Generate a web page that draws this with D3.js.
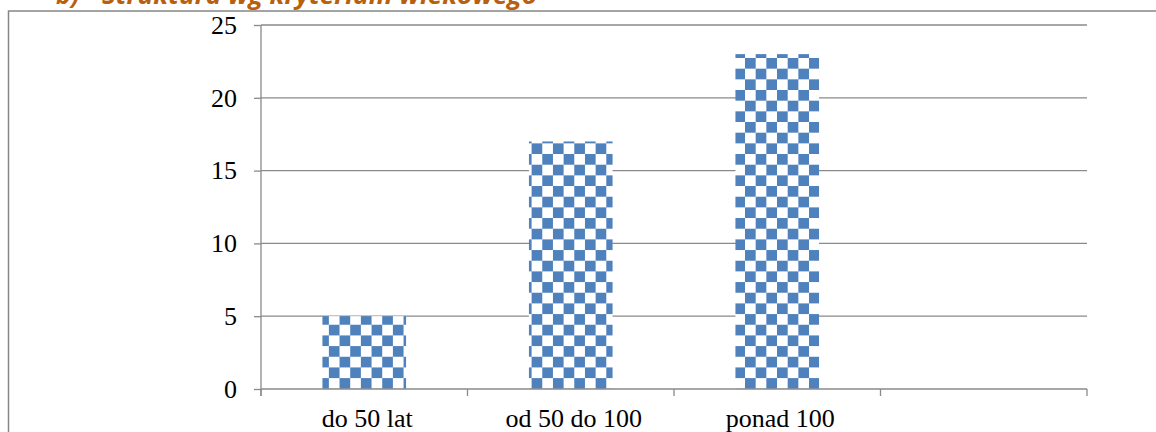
<!DOCTYPE html>
<html><head><meta charset="utf-8">
<script src="https://cdn.jsdelivr.net/npm/d3@7"></script>
<style>html,body{margin:0;padding:0;background:#fff;overflow:hidden}</style>
</head><body>
<script>
const categories = ["do 50 lat", "od 50 do 100", "ponad 100", ""];
const values = [5, 17, 23, null];
const yTicks = [0, 5, 10, 15, 20, 25];
const titleNum = "b)";
const titleText = "Struktura wg kryterium wiekowego";

const W = 1156, H = 432;
const svg = d3.select("body").append("svg").attr("width", W).attr("height", H);

const defs = svg.append("defs");
const s = 10.67;
const pat = defs.append("pattern").attr("id", "chk").attr("patternUnits", "userSpaceOnUse")
  .attr("width", 2*s).attr("height", 2*s).attr("x", 745).attr("y", 58);
pat.append("rect").attr("width", 2*s).attr("height", 2*s).attr("fill", "#fff");
pat.append("rect").attr("width", s).attr("height", s).attr("fill", "#4F81BD");
pat.append("rect").attr("x", s).attr("y", s).attr("width", s).attr("height", s).attr("fill", "#4F81BD");

// chart border
svg.append("rect").attr("x", 8.5).attr("y", 11).attr("width", 1160).attr("height", 440)
  .attr("fill", "none").attr("stroke", "#868686").attr("stroke-width", 1.5);

// title (cut off at top, as in the source)
const tf = g => g.attr("font-family", "'Open Sans', sans-serif").attr("font-weight", "bold")
  .attr("font-style", "italic").attr("font-size", 25).attr("fill", "#B8600D");
svg.append("text").attr("x", 56).attr("y", 4).call(tf).text(titleNum);
svg.append("text").attr("x", 102).attr("y", 4).call(tf).attr("textLength", 435)
  .attr("lengthAdjust", "spacingAndGlyphs").text(titleText);

const x = d3.scaleBand().domain(categories).range([261, 1087]).padding(0);
const y = d3.scaleLinear().domain([0, 25]).range([389, 25]);

// gridlines
svg.append("g").selectAll("line").data(yTicks.filter(d => d > 0)).join("line")
  .attr("x1", 261).attr("x2", 1087).attr("y1", d => y(d)).attr("y2", d => y(d))
  .attr("stroke", "#8a8a8a").attr("stroke-width", 1.3);

// bars
const bw = x.bandwidth() * 0.405;
svg.append("g").selectAll("rect").data(categories.map((c, i) => ({c, v: values[i]})).filter(d => d.v != null))
  .join("rect")
  .attr("x", d => x(d.c) + x.bandwidth()/2 - bw/2)
  .attr("y", d => y(d.v))
  .attr("width", bw)
  .attr("height", d => y(0) - y(d.v))
  .attr("fill", "url(#chk)");

const lf = "'Liberation Serif', 'Times New Roman', serif";
// y axis
const ya = svg.append("g").attr("transform", "translate(261,0)")
  .call(d3.axisLeft(y).tickValues(yTicks).tickSize(7).tickPadding(17).tickFormat(d3.format("d")));
ya.select(".domain").attr("stroke", "#8a8a8a").attr("stroke-width", 1.3).attr("d", "M0,25V396");
ya.selectAll(".tick line").attr("stroke", "#8a8a8a").attr("stroke-width", 1.3);
ya.selectAll(".tick text").attr("font-family", lf).attr("font-size", 26).attr("fill", "#000");

// x axis
const xa = svg.append("g").attr("transform", "translate(0,389)")
  .call(d3.axisBottom(x).tickSize(0).tickPadding(0));
xa.select(".domain").attr("stroke", "#8a8a8a").attr("stroke-width", 1.3).attr("d", "M261,0H1087");
xa.selectAll(".tick text").attr("font-family", lf).attr("font-size", 26).attr("fill", "#000")
  .attr("dy", null).attr("y", 38).attr("dx", 3);
// category boundary ticks
const bounds = categories.map(c => x(c)).concat([x.range()[1]]);
svg.append("g").selectAll("line").data(bounds).join("line")
  .attr("x1", d => d).attr("x2", d => d).attr("y1", 389).attr("y2", 396)
  .attr("stroke", "#8a8a8a").attr("stroke-width", 1.3);
</script>
</body></html>
